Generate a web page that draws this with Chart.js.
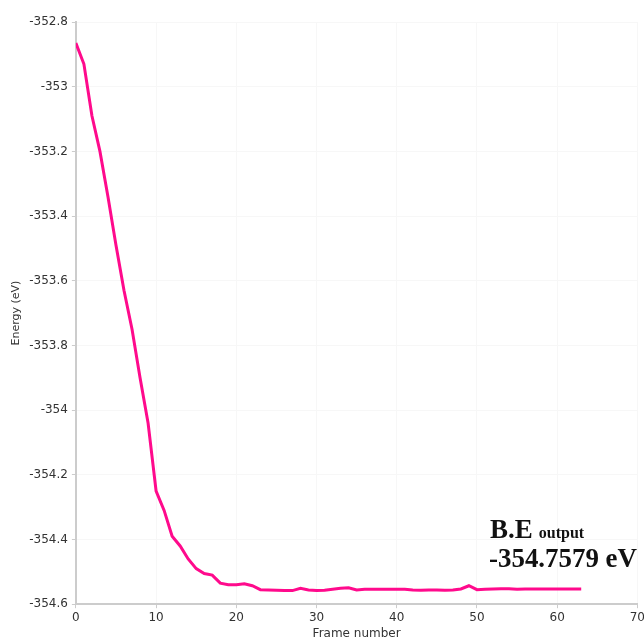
<!DOCTYPE html>
<html>
<head>
<meta charset="utf-8">
<script src="https://cdn.jsdelivr.net/npm/chart.js@4/dist/chart.umd.min.js"></script>
<style>
  html, body { margin: 0; padding: 0; background: #fff; overflow: hidden; }
  #wrap { width: 644px; height: 641px; overflow: hidden; }
</style>
</head>
<body>
<div id="wrap"><canvas id="myChart" width="647" height="641"></canvas></div>
<script>
// frame numbers and energies
var frames = [];
for (var i = 0; i <= 63; i++) frames.push(i);

var energy = [
  -352.865, -352.93, -353.09, -353.20, -353.34, -353.49, -353.63, -353.75,
  -353.90, -354.04, -354.25, -354.31, -354.39, -354.42, -354.46, -354.49,
  -354.505, -354.51, -354.535, -354.54, -354.54, -354.537, -354.543, -354.555,
  -354.556, -354.557, -354.558, -354.558, -354.551, -354.556, -354.558, -354.557,
  -354.554, -354.551, -354.549, -354.556, -354.554, -354.554, -354.554, -354.554,
  -354.554, -354.554, -354.556, -354.557, -354.556, -354.556, -354.557, -354.556,
  -354.553, -354.543, -354.555, -354.554, -354.553, -354.552, -354.552, -354.554,
  -354.553, -354.553, -354.553, -354.553, -354.553, -354.553, -354.553, -354.553
];

var yMin = -354.6, yMax = -352.8, yStep = 0.2;
var xMin = 0, xMax = 70, xStep = 10;

var noteTitle = 'B.E';
var noteSub = 'output';
var noteValue = '-354.7579 eV';

var points = frames.map(function(f, i) { return { x: f, y: energy[i] }; });

// draws the binding energy note in the lower right
var notePlugin = {
  id: 'note',
  afterDraw: function(chart) {
    var ctx = chart.ctx;
    ctx.save();
    ctx.fillStyle = '#111';
    ctx.textBaseline = 'alphabetic';
    ctx.textAlign = 'left';
    ctx.font = 'bold 27px "Liberation Serif", "Times New Roman", serif';
    ctx.fillText(noteTitle, 490, 538);
    var w = ctx.measureText(noteTitle).width;
    ctx.font = 'bold 16px "Liberation Serif", "Times New Roman", serif';
    ctx.fillText(noteSub, 490 + w + 6, 538);

    ctx.font = 'bold 27px "Liberation Serif", "Times New Roman", serif';
    var vw = ctx.measureText(noteValue).width;
    ctx.translate(489, 567);
    ctx.scale(148 / vw, 1);
    ctx.fillText(noteValue, 0, 0);
    ctx.restore();
  }
};

var ctx = document.getElementById('myChart').getContext('2d');
var myChart = new Chart(ctx, {
  type: 'line',
  data: {
    datasets: [{
      data: points,
      borderColor: '#ff0a8c',
      borderWidth: 3,
      pointRadius: 0,
      tension: 0,
      fill: false
    }]
  },
  options: {
    responsive: false,
    animation: false,
    plugins: {
      legend: { display: false },
      tooltip: { enabled: false }
    },
    layout: {
      padding: { left: 10, right: 0, top: 22, bottom: 0 }
    },
    scales: {
      x: {
        type: 'linear',
        min: xMin,
        max: xMax,
        ticks: {
          stepSize: xStep,
          color: '#333',
          font: { family: 'DejaVu Sans', size: 12 },
          padding: 2,
          maxRotation: 0
        },
        grid: {
          color: '#f7f7f7',
          tickColor: '#cccccc',
          tickLength: 4
        },
        border: { color: '#cccccc', width: 2 },
        title: {
          display: true,
          text: 'Frame number',
          color: '#333',
          font: { family: 'DejaVu Sans', size: 12 },
          padding: { top: 0, bottom: 0 }
        }
      },
      y: {
        min: yMin,
        max: yMax,
        ticks: {
          stepSize: yStep,
          color: '#333',
          font: { family: 'DejaVu Sans', size: 12 },
          padding: 4,
          callback: function(v) { return String(+v.toFixed(1)); }
        },
        grid: {
          color: '#f7f7f7',
          tickColor: '#cccccc',
          tickLength: 4
        },
        border: { color: '#cccccc', width: 2 },
        title: {
          display: true,
          text: 'Energy (eV)',
          color: '#333',
          font: { family: 'DejaVu Sans', size: 11 },
          padding: { top: 0, bottom: 2 }
        }
      }
    }
  },
  plugins: [notePlugin]
});
</script>
</body>
</html>
